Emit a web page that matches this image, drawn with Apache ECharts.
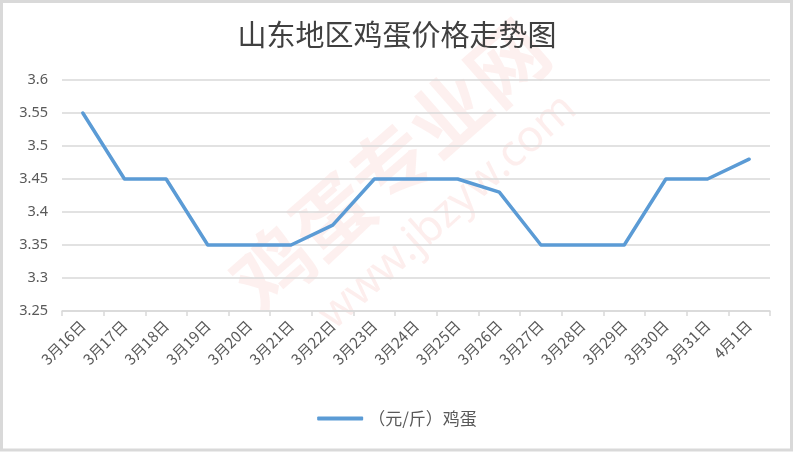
<!DOCTYPE html>
<html><head><meta charset="utf-8">
<script src="https://cdn.jsdelivr.net/npm/echarts@6/dist/echarts.min.js"></script>
<style>html,body{margin:0;padding:0;background:#fff}#c{width:794px;height:452px}</style>
</head><body><div id="c"></div>
<script>
const categories = ['3月16日','3月17日','3月18日','3月19日','3月20日','3月21日','3月22日','3月23日','3月24日','3月25日','3月26日','3月27日','3月28日','3月29日','3月30日','3月31日','4月1日'];
const eggPrice = [3.55,3.45,3.45,3.35,3.35,3.35,3.38,3.45,3.45,3.45,3.43,3.35,3.35,3.35,3.45,3.45,3.48];
const seriesName = '（元/斤）鸡蛋';
const titleText = '山东地区鸡蛋价格走势图';

const chart = echarts.init(document.getElementById('c'));
chart.setOption({
  animation:false,
  backgroundColor:'#fff',
  title:{text:titleText,left:'center',top:15,textStyle:{fontFamily:'Noto Sans CJK SC',fontSize:29,fontWeight:'normal',color:'#404040'}},
  graphic:[
    {type:'rect',shape:{x:1.5,y:1.5,width:790,height:448.5},style:{fill:'none',stroke:'#D9D9D9',lineWidth:3},z:100},
    {type:'text',x:390,y:165,rotation:0.72,style:{text:'鸡蛋专业网',font:'bold 78px "Noto Sans CJK SC"',fill:'rgba(235,90,80,0.09)',textAlign:'center',textVerticalAlign:'middle'},z:-1,silent:true},
    {type:'text',x:448,y:212,rotation:0.73,style:{text:'www.jbzyw.com',font:'44px "Noto Sans"',fill:'rgba(235,90,80,0.10)',textAlign:'center',textVerticalAlign:'middle'},z:-1,silent:true}
  ],
  legend:{bottom:20,left:'center',itemWidth:46,itemHeight:4,itemGap:10,icon:'roundRect',
    textStyle:{fontFamily:'Noto Sans CJK SC',fontSize:17,color:'#595959'},data:[seriesName]},
  grid:{left:62,right:24,top:80,bottom:141},
  xAxis:{type:'category',data:categories,boundaryGap:true,
    axisLine:{lineStyle:{color:'#D9D9D9',width:1.5}},
    axisTick:{show:true,length:5,lineStyle:{color:'#D9D9D9',width:1.5}},
    axisLabel:{rotate:45,interval:0,margin:12,fontFamily:'Noto Sans CJK SC',fontSize:15,color:'#595959'}},
  yAxis:{type:'value',min:3.25,max:3.6,interval:0.05,
    axisLine:{show:false},axisTick:{show:false},
    splitLine:{lineStyle:{color:'#D9D9D9',width:1.5}},
    axisLabel:{margin:14,fontFamily:'Noto Sans',fontSize:14.5,color:'#595959',formatter:v=>String(Math.round(v*100)/100)}},
  series:[{name:seriesName,type:'line',data:eggPrice,symbol:'none',
    lineStyle:{color:'#5B9BD5',width:3.5,cap:'round',join:'round'},itemStyle:{color:'#5B9BD5'}}]
});
</script></body></html>
